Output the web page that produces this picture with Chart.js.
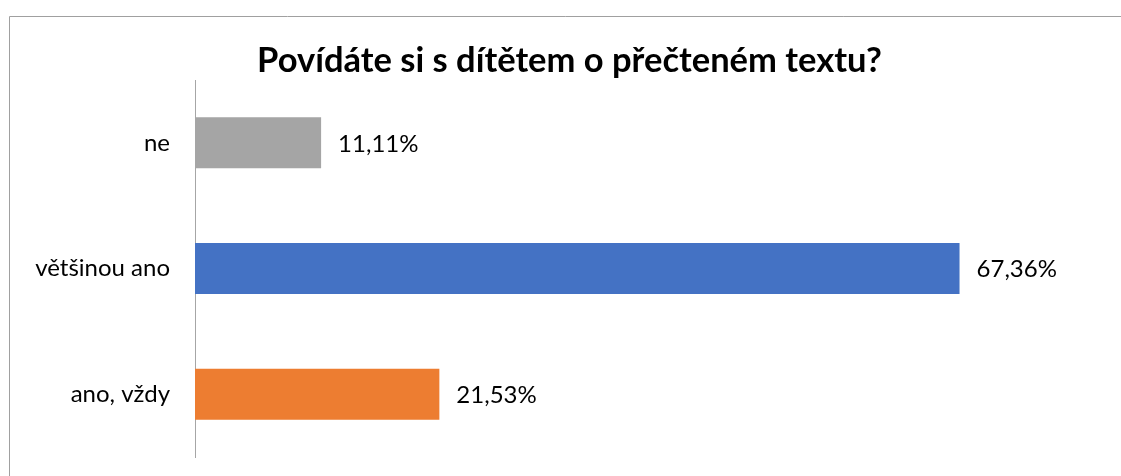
<!DOCTYPE html>
<html>
<head>
<meta charset="utf-8">
<script src="https://cdn.jsdelivr.net/npm/chart.js@4.4.1/dist/chart.umd.min.js"></script>
<style>
  html, body { margin: 0; padding: 0; background: #fff; overflow: hidden; }
  canvas { display: block; }
</style>
</head>
<body>
<canvas id="c" width="1121" height="476"></canvas>
<script>
const titleText = 'Povídáte si s dítětem o přečteném textu?';
const categories = ['ne', 'většinou ano', 'ano, vždy'];
const values = [11.11, 67.36, 21.53];
const barColors = ['#A5A5A5', '#4472C4', '#ED7D31'];

const frame = {
  id: 'frame',
  beforeDraw(chart) {
    const ctx = chart.ctx;
    ctx.save();
    ctx.fillStyle = '#fff';
    ctx.fillRect(0, 0, chart.width, chart.height);
    ctx.strokeStyle = '#A0A0A0';
    ctx.lineWidth = 1;
    ctx.beginPath();
    ctx.moveTo(9.5, chart.height);
    ctx.lineTo(9.5, 16.5);
    ctx.lineTo(chart.width, 16.5);
    ctx.stroke();
    ctx.restore();
  }
};

const valueLabels = {
  id: 'valueLabels',
  afterDatasetsDraw(chart) {
    const ctx = chart.ctx;
    ctx.save();
    ctx.font = '24px Lato';
    ctx.fillStyle = '#000';
    ctx.textAlign = 'left';
    ctx.textBaseline = 'middle';
    chart.getDatasetMeta(0).data.forEach((el, i) => {
      const txt = values[i].toFixed(2).replace('.', ',') + '%';
      ctx.fillText(txt, el.x + 17, el.y + 1);
    });
    ctx.restore();
  }
};

new Chart(document.getElementById('c'), {
  type: 'bar',
  data: {
    labels: categories,
    datasets: [{
      data: values,
      backgroundColor: barColors,
      borderWidth: 0,
      categoryPercentage: 1,
      barPercentage: 0.406
    }]
  },
  options: {
    indexAxis: 'y',
    responsive: false,
    animation: false,
    layout: { padding: { left: 18, right: 0, top: 0, bottom: 19 } },
    plugins: {
      legend: { display: false },
      tooltip: { enabled: false },
      title: {
        display: true,
        text: titleText,
        color: '#000',
        font: { family: 'Lato', size: 34.5, weight: 'bold', lineHeight: 1 },
        padding: { top: 44, bottom: 1.5 }
      }
    },
    scales: {
      x: {
        display: false,
        min: 0,
        max: 80
      },
      y: {
        grid: { display: false, drawTicks: false },
        border: { display: true, color: '#A6A6A6', width: 1 },
        ticks: {
          color: '#000',
          padding: 25,
          font: { family: 'Lato', size: 24 }
        },
        afterFit(scale) {
          scale.width = 177;
          scale.paddingTop = 0;
          scale.paddingBottom = 0;
        }
      },
      yRight: {
        type: 'category',
        position: 'right',
        grid: { display: false, drawTicks: false },
        border: { display: false },
        ticks: { display: false },
        afterFit(scale) {
          scale.width = 18;
          scale.paddingTop = 0;
          scale.paddingBottom = 0;
        }
      }
    }
  },
  plugins: [frame, valueLabels]
});
</script>
</body>
</html>
